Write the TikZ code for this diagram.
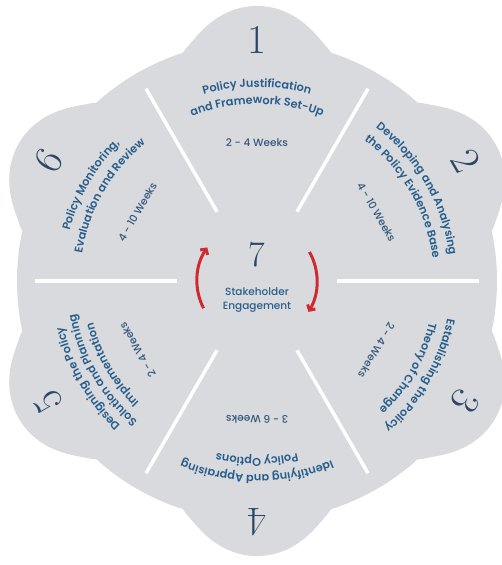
\documentclass[tikz,border=0pt]{standalone}
\usepackage{fontspec}
\usepackage{tikz}
\usetikzlibrary{positioning,calc,decorations.text,arrows.meta}
\newfontfamily\pop{Poppins}[BoldFont={Poppins SemiBold}]
\newfontfamily\popmed{Poppins Medium}
\definecolor{petalgray}{RGB}{217,218,221}
\definecolor{titleblue}{RGB}{40,94,140}
\definecolor{weekblue}{RGB}{52,88,125}
\definecolor{numblue}{RGB}{44,72,104}
\definecolor{arrowred}{RGB}{207,42,48}
\newcommand{\titlefont}{\pop\bfseries\fontsize{11.3}{13}\selectfont\color{titleblue}}
\newcommand{\stage}[4]{\node [numlabel, rotate=#2-90] (#1num) at (#2:241) {#3};
  \node [weeklabel, rotate=#2-90] (#1wk) at (#2:138) {#4}}
\newcommand{\titleline}[3]{\path [decorate, decoration={text along path, text align=center, text={|\titlefont|#3}}] ({#1+42}:#2) arc [start angle=#1+42, end angle=#1-42, radius=#2]}

\begin{document}
\begin{tikzpicture}[x=1pt, y=1pt,
  declare function={lobephi(\a)=Mod(\a,60)-30;
    lobes(\a)=209*sin(lobephi(\a));
    lober(\a)=(abs(lobes(\a))<64)*(209*cos(lobephi(\a))+sqrt(max(0,4096-lobes(\a)*lobes(\a))))+(abs(lobes(\a))>=64)*100;
    flowerr(\a)=240*pow(1+pow(lober(\a)/240,16),1/16);},
  numlabel/.style={text=numblue, font=\fontsize{41}{41}\selectfont, inner sep=0pt},
  weeklabel/.style={text=weekblue, font=\popmed\fontsize{10.5}{12}\selectfont, inner sep=1pt},
  engagelabel/.style={text=titleblue, font=\popmed\fontsize{10.5}{14.5}\selectfont, align=center},
  spoke/.style={draw=white, line width=3.5pt},
  turnarrow/.style={draw=arrowred, line width=3pt, -{Straight Barb[length=4pt, width=9pt]}}]

\useasboundingbox (-257,-284) rectangle (245,281);

\fill [petalgray] plot [domain=0:359, samples=360, smooth cycle] (\x:{flowerr(\x)});

\foreach \a in {0,60,...,300}
  \draw [spoke] (\a:80) -- (\a:222);

\draw [turnarrow] (207:60) arc [start angle=207, end angle=146, radius=60];
\draw [turnarrow] (29:60) arc [start angle=29, end angle=-31, radius=60];

\node [numlabel, font=\fontsize{36}{36}\selectfont] (sevennum) at (0,26) {7};
\node [engagelabel] (engage) at (0,-19) {Stakeholder\\Engagement};

\stage{justify}{90}{1}{2 - 4 Weeks};
\stage{evidence}{30}{2}{4 - 10 Weeks};
\stage{theory}{-30}{3}{2 - 4 Weeks};
\stage{options}{-90}{4}{3 - 6 Weeks};
\stage{design}{-150}{5}{2 - 4 Weeks};
\stage{review}{150}{6}{4 - 10 Weeks};

\titleline{90}{194}{Policy Justification};
\titleline{90}{177}{and Framework Set-Up};
\titleline{30}{194}{Developing and Analysing};
\titleline{30}{177}{the Policy Evidence Base};
\titleline{-30}{194}{Establishing the Policy};
\titleline{-30}{177}{Theory of Change};
\titleline{-90}{194}{Identifying and Appraising};
\titleline{-90}{177}{Policy Options};
\titleline{-150}{199}{Designing the Policy};
\titleline{-150}{184}{Solution and Planning};
\titleline{-150}{169}{Implementation};
\titleline{150}{194}{Policy Monitoring,};
\titleline{150}{177}{Evaluation and Review};

\end{tikzpicture}
\end{document}
